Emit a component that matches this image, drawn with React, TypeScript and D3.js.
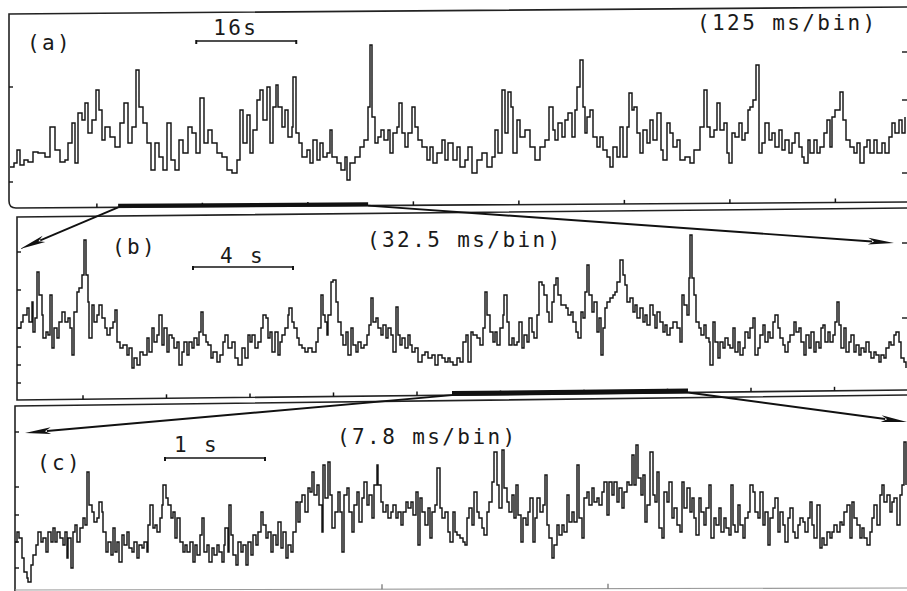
import React from "react";
import * as d3 from "d3";

type Pt = [number, number];

// Panel (a): time (s), counts per bin
const aSeries: Pt[] = [[0,18],[0.64,22],[1.12,35],[1.6,20],[2.24,25],[2.88,23],[3.68,33],[4.48,32],[5.6,28],[6.4,58],[7.2,35],[8,23],[8.8,25],[9.28,42],[9.92,62],[10.4,22],[10.88,72],[11.52,65],[12,82],[12.48,52],[13.12,65],[13.76,95],[14.24,75],[14.72,45],[15.2,58],[16,48],[16.8,38],[17.6,62],[18.24,82],[18.88,42],[19.52,58],[20.16,115],[20.64,78],[21.28,62],[21.92,42],[22.56,15],[23.2,42],[23.84,28],[24.48,15],[25.12,62],[25.76,25],[26.4,15],[27.04,45],[27.68,32],[28.48,58],[29.12,52],[29.76,32],[30.4,87],[31.04,42],[31.68,55],[32.32,42],[33.12,32],[33.92,28],[34.72,15],[35.52,12],[36.32,25],[36.8,75],[37.28,42],[37.92,70],[38.4,32],[38.88,55],[39.52,85],[40,95],[40.48,65],[41.12,98],[41.6,42],[42.08,78],[42.56,100],[42.88,78],[43.52,58],[44,75],[44.48,48],[45.12,58],[45.28,108],[45.76,52],[46.24,42],[46.72,28],[47.52,35],[48,22],[48.48,45],[49.12,25],[49.6,42],[50.08,28],[50.72,32],[51.2,55],[51.52,28],[52.32,22],[52.96,15],[53.6,28],[53.92,5],[54.4,22],[55.2,28],[56,38],[56.64,45],[57.28,78],[57.6,140],[57.92,68],[58.4,42],[58.88,48],[59.36,55],[59.84,45],[60.48,55],[60.8,32],[61.28,52],[61.92,58],[62.24,82],[62.72,52],[63.2,38],[63.68,52],[64.32,78],[64.8,58],[65.28,45],[65.92,38],[66.72,25],[67.2,38],[67.68,22],[68.32,32],[69.12,45],[69.6,25],[70.08,42],[70.88,25],[71.52,38],[72,18],[72.8,25],[73.28,38],[73.92,12],[74.72,25],[75.52,32],[76.32,18],[77.12,28],[77.6,55],[78.08,32],[78.72,95],[79.2,52],[79.68,93],[80.16,78],[80.48,32],[81.12,65],[81.6,48],[82.4,55],[83.2,38],[84,25],[84.8,38],[85.6,45],[86.24,78],[86.88,55],[87.2,45],[87.68,62],[88.32,48],[88.8,65],[89.28,72],[89.92,48],[90.4,75],[90.72,98],[91.2,125],[91.68,78],[92,52],[92.32,68],[92.8,75],[93.28,48],[93.92,38],[94.4,48],[94.88,35],[95.52,28],[96,18],[96.48,38],[97.12,28],[97.6,58],[98.08,28],[98.72,58],[99.04,92],[99.52,75],[99.84,78],[100.32,52],[100.8,32],[101.28,55],[101.92,42],[102.4,65],[102.88,45],[103.52,72],[104.16,35],[104.48,25],[105.12,62],[105.6,52],[106.08,38],[106.72,45],[107.2,25],[108,28],[108.8,22],[109.44,35],[109.92,35],[110.4,58],[111.04,95],[111.52,58],[112,48],[112.64,55],[113.12,82],[113.6,55],[114.24,62],[114.72,32],[115.04,22],[115.52,52],[116,48],[116.64,62],[117.12,45],[117.6,52],[118.08,75],[118.4,78],[118.88,85],[119.36,120],[119.84,32],[120.32,42],[120.8,62],[121.44,45],[121.92,52],[122.4,38],[123.04,55],[123.52,35],[124,45],[124.64,32],[125.12,42],[125.6,52],[126.24,38],[126.72,28],[127.04,22],[127.68,45],[128,32],[128.64,45],[129.12,32],[129.6,38],[130.24,52],[130.72,65],[131.2,38],[131.52,68],[132,75],[132.8,93],[133.28,65],[133.76,45],[134.4,38],[135.04,32],[135.52,42],[136,22],[136.64,38],[137.12,45],[137.6,32],[138.24,45],[138.72,32],[139.52,42],[140,32],[140.64,48],[141.12,62],[141.6,52],[142.24,65],[142.72,52],[143.2,68]];

// Panel (b)
const bSeries: Pt[] = [[0,67],[0.12,73],[0.2,80],[0.36,87],[0.44,73],[0.56,93],[0.6,63],[0.68,77],[0.76,123],[0.84,100],[0.96,80],[1,57],[1.12,63],[1.2,60],[1.28,100],[1.36,47],[1.44,67],[1.56,57],[1.64,73],[1.76,83],[1.88,73],[2,77],[2.08,67],[2.16,40],[2.24,83],[2.36,103],[2.44,107],[2.56,120],[2.64,155],[2.72,120],[2.8,93],[2.84,57],[2.96,90],[3.04,73],[3.16,80],[3.24,90],[3.36,77],[3.48,67],[3.56,60],[3.68,67],[3.8,73],[3.88,85],[3.96,53],[4.08,47],[4.2,50],[4.36,40],[4.44,47],[4.56,27],[4.64,37],[4.76,30],[4.88,43],[5,40],[5.16,57],[5.24,43],[5.36,67],[5.44,53],[5.56,60],[5.64,80],[5.76,50],[5.84,67],[5.96,43],[6.04,60],[6.16,57],[6.24,47],[6.36,53],[6.44,30],[6.56,43],[6.64,53],[6.76,40],[6.84,53],[6.96,47],[7.04,57],[7.16,50],[7.24,63],[7.32,83],[7.4,60],[7.52,53],[7.6,50],[7.72,37],[7.8,43],[7.96,33],[8.08,40],[8.2,53],[8.28,60],[8.4,47],[8.56,53],[8.68,37],[8.8,30],[8.96,47],[9.08,37],[9.2,60],[9.28,53],[9.36,60],[9.48,47],[9.6,53],[9.72,67],[9.8,80],[9.92,77],[10,57],[10.08,63],[10.16,43],[10.28,63],[10.4,40],[10.48,53],[10.56,60],[10.68,67],[10.8,80],[10.84,87],[10.96,73],[11.04,67],[11.16,57],[11.24,50],[11.36,47],[11.48,43],[11.6,47],[11.76,43],[11.92,53],[12,67],[12.12,100],[12.2,80],[12.28,73],[12.36,60],[12.4,80],[12.52,113],[12.6,115],[12.72,93],[12.8,73],[12.92,60],[13,50],[13.12,63],[13.2,40],[13.32,67],[13.4,50],[13.52,43],[13.6,53],[13.72,47],[13.84,50],[13.96,60],[14.04,70],[14.12,97],[14.2,73],[14.32,77],[14.4,67],[14.52,60],[14.6,70],[14.72,57],[14.8,67],[14.92,60],[15,43],[15.12,88],[15.2,60],[15.28,50],[15.36,57],[15.48,47],[15.6,60],[15.68,50],[15.76,43],[15.88,47],[16,33],[16.16,40],[16.28,43],[16.4,37],[16.56,40],[16.68,30],[16.8,40],[16.96,37],[17.08,33],[17.2,37],[17.28,33],[17.4,30],[17.56,37],[17.68,33],[17.8,53],[17.92,60],[18,33],[18.12,63],[18.2,60],[18.36,57],[18.48,50],[18.6,67],[18.68,103],[18.76,80],[18.88,63],[19,53],[19.08,63],[19.16,50],[19.28,67],[19.4,80],[19.44,100],[19.56,73],[19.64,50],[19.76,57],[19.84,50],[19.96,53],[20.04,73],[20.16,47],[20.24,60],[20.36,53],[20.44,77],[20.56,63],[20.64,57],[20.76,80],[20.84,113],[20.96,110],[21.04,100],[21.16,83],[21.24,73],[21.36,93],[21.44,110],[21.52,117],[21.6,100],[21.72,90],[21.8,90],[21.92,87],[22,80],[22.12,83],[22.2,73],[22.32,63],[22.4,57],[22.52,83],[22.6,77],[22.68,103],[22.76,130],[22.84,100],[22.96,83],[23.04,93],[23.16,63],[23.24,77],[23.32,40],[23.4,67],[23.48,87],[23.56,93],[23.68,97],[23.8,100],[23.88,103],[23.96,113],[24.08,135],[24.2,120],[24.28,110],[24.36,93],[24.48,97],[24.6,83],[24.68,90],[24.76,77],[24.88,87],[25,73],[25.08,80],[25.16,70],[25.28,90],[25.4,80],[25.48,67],[25.56,83],[25.68,73],[25.8,63],[25.88,70],[25.96,60],[26.08,67],[26.2,73],[26.36,67],[26.48,53],[26.56,100],[26.64,90],[26.76,80],[26.84,117],[26.88,160],[26.96,117],[27.04,100],[27.12,73],[27.24,67],[27.32,60],[27.44,70],[27.52,57],[27.64,53],[27.68,30],[27.8,73],[27.88,53],[28,37],[28.08,53],[28.2,47],[28.28,57],[28.4,50],[28.48,47],[28.6,67],[28.68,43],[28.8,53],[28.88,40],[29,47],[29.08,63],[29.2,57],[29.28,67],[29.4,77],[29.48,40],[29.6,47],[29.68,60],[29.8,70],[29.88,53],[30,63],[30.08,57],[30.2,73],[30.28,80],[30.4,67],[30.48,57],[30.6,50],[30.68,43],[30.8,53],[30.88,60],[31.04,73],[31.12,63],[31.24,67],[31.32,53],[31.44,40],[31.52,60],[31.64,47],[31.72,63],[31.84,43],[31.92,53],[32.04,47],[32.12,67],[32.2,70],[32.28,53],[32.4,63],[32.48,53],[32.6,60],[32.68,73],[32.76,93],[32.84,70],[32.92,47],[33.04,67],[33.12,43],[33.24,53],[33.32,60],[33.44,43],[33.52,50],[33.64,40],[33.72,47],[33.84,43],[33.92,53],[34.04,43],[34.12,37],[34.24,43],[34.32,40],[34.44,33],[34.52,40],[34.64,37],[34.72,47],[34.84,53],[34.92,50],[35.04,60],[35.12,63],[35.24,53],[35.32,37],[35.44,33],[35.52,27]];

// Panel (c)
const cSeries: Pt[] = [[0,48],[0.02,58],[0.04,52],[0.07,32],[0.09,18],[0.12,12],[0.13,8],[0.16,25],[0.18,35],[0.21,45],[0.23,58],[0.26,48],[0.28,52],[0.31,38],[0.33,58],[0.36,48],[0.38,62],[0.4,48],[0.42,58],[0.45,52],[0.48,45],[0.5,58],[0.52,32],[0.53,52],[0.56,22],[0.58,58],[0.6,65],[0.62,48],[0.65,62],[0.68,72],[0.7,65],[0.72,118],[0.74,85],[0.77,78],[0.79,68],[0.82,72],[0.84,88],[0.87,78],[0.88,58],[0.91,38],[0.93,48],[0.96,35],[0.98,62],[1,38],[1.02,48],[1.04,28],[1.07,55],[1.09,45],[1.12,58],[1.14,42],[1.17,38],[1.19,48],[1.22,32],[1.24,45],[1.27,42],[1.29,48],[1.32,38],[1.33,65],[1.35,85],[1.38,62],[1.4,65],[1.42,58],[1.45,72],[1.47,85],[1.48,105],[1.51,92],[1.53,85],[1.56,72],[1.58,78],[1.6,52],[1.62,72],[1.65,48],[1.68,38],[1.7,45],[1.72,38],[1.75,48],[1.78,28],[1.8,45],[1.82,35],[1.85,55],[1.87,72],[1.89,38],[1.92,45],[1.94,28],[1.97,42],[1.99,35],[2.02,45],[2.04,38],[2.07,28],[2.09,45],[2.1,62],[2.13,38],[2.14,85],[2.16,55],[2.18,35],[2.21,25],[2.23,48],[2.26,38],[2.28,45],[2.31,25],[2.33,48],[2.36,35],[2.38,55],[2.41,45],[2.43,58],[2.46,78],[2.48,65],[2.51,52],[2.53,58],[2.56,38],[2.58,55],[2.61,45],[2.63,68],[2.66,42],[2.68,58],[2.71,32],[2.73,45],[2.76,38],[2.78,58],[2.81,88],[2.83,68],[2.85,88],[2.87,95],[2.9,78],[2.93,102],[2.95,98],[2.97,118],[2.99,95],[3.02,105],[3.04,85],[3.07,58],[3.08,125],[3.1,92],[3.13,128],[3.15,95],[3.17,62],[3.2,78],[3.23,98],[3.25,78],[3.27,38],[3.29,95],[3.32,102],[3.34,78],[3.37,58],[3.39,85],[3.42,98],[3.44,68],[3.47,92],[3.49,108],[3.52,85],[3.54,95],[3.57,72],[3.59,105],[3.62,125],[3.63,105],[3.66,88],[3.68,78],[3.71,85],[3.73,72],[3.76,78],[3.78,85],[3.81,72],[3.83,78],[3.86,65],[3.88,78],[3.91,88],[3.93,82],[3.96,88],[3.98,75],[4.01,98],[4.03,45],[4.05,92],[4.07,78],[4.1,65],[4.13,82],[4.15,52],[4.17,78],[4.2,85],[4.22,122],[4.25,82],[4.27,72],[4.3,78],[4.33,58],[4.35,48],[4.38,78],[4.4,58],[4.42,55],[4.45,52],[4.48,48],[4.5,45],[4.52,72],[4.54,82],[4.57,65],[4.59,98],[4.62,78],[4.64,72],[4.67,62],[4.69,55],[4.72,78],[4.74,88],[4.77,108],[4.79,138],[4.82,105],[4.84,82],[4.87,140],[4.89,102],[4.92,88],[4.94,78],[4.97,95],[4.99,72],[5.01,105],[5.03,75],[5.06,48],[5.08,72],[5.11,65],[5.13,78],[5.15,92],[5.18,48],[5.2,72],[5.22,92],[5.25,78],[5.28,85],[5.3,115],[5.32,65],[5.34,52],[5.37,32],[5.39,45],[5.42,65],[5.44,55],[5.47,65],[5.49,58],[5.52,95],[5.54,68],[5.57,78],[5.59,68],[5.62,125],[5.64,72],[5.67,52],[5.69,92],[5.72,98],[5.74,85],[5.77,102],[5.79,88],[5.82,92],[5.84,85],[5.87,98],[5.89,108],[5.92,75],[5.94,108],[5.97,95],[5.99,108],[6.02,88],[6.04,102],[6.07,82],[6.09,98],[6.12,108],[6.14,105],[6.17,135],[6.19,105],[6.21,145],[6.23,112],[6.26,95],[6.28,115],[6.3,68],[6.32,85],[6.35,138],[6.38,95],[6.4,88],[6.42,118],[6.44,62],[6.47,52],[6.49,98],[6.52,88],[6.54,108],[6.57,72],[6.59,82],[6.62,65],[6.65,58],[6.67,108],[6.69,82],[6.72,102],[6.75,78],[6.77,92],[6.79,72],[6.81,55],[6.84,92],[6.86,78],[6.89,65],[6.91,82],[6.94,105],[6.96,52],[6.99,72],[7.01,65],[7.04,82],[7.06,58],[7.09,72],[7.11,62],[7.14,55],[7.16,105],[7.18,65],[7.2,58],[7.23,85],[7.25,65],[7.28,52],[7.3,72],[7.33,78],[7.35,105],[7.38,98],[7.4,78],[7.43,72],[7.45,98],[7.48,65],[7.5,78],[7.53,45],[7.55,72],[7.58,82],[7.6,92],[7.63,58],[7.65,78],[7.68,65],[7.7,48],[7.73,72],[7.75,82],[7.78,58],[7.8,52],[7.83,65],[7.85,72],[7.88,68],[7.9,58],[7.93,72],[7.95,88],[7.97,65],[7.99,52],[8.02,85],[8.05,42],[8.07,52],[8.09,45],[8.12,58],[8.15,52],[8.17,58],[8.19,65],[8.22,58],[8.25,68],[8.27,65],[8.29,78],[8.32,85],[8.35,52],[8.37,88],[8.39,72],[8.42,65],[8.45,52],[8.47,62],[8.49,52],[8.52,45],[8.55,58],[8.57,72],[8.59,85],[8.62,65],[8.65,95],[8.67,105],[8.69,88],[8.72,95],[8.75,78],[8.77,88],[8.79,92],[8.82,65],[8.85,95],[8.87,105],[8.89,148],[8.91,105]];

const panelLabels = ["(a)", "(b)", "(c)"];
const binLabels = ["(125 ms/bin)", "(32.5 ms/bin)", "(7.8 ms/bin)"];
const scaleBarLabels = ["16s", "4 s", "1 s"];
const scaleBarSeconds = [16, 4, 1];
const scaleBarStart = [29.8, 7.0, 1.5];
const zoomWindowA: Pt = [17.3, 57.3];
const zoomWindowB: Pt = [17.36, 26.8];
const aTimeTicks = [13.9, 30.78, 47.66, 64.54, 81.42, 98.3, 115.18, 132.06];
const bTimeTicks = [2.6, 5.94, 9.28, 12.62, 15.96, 19.3, 22.64, 25.98, 29.32, 32.66];
const cTimeTicks = [3.67, 5.93];
const aLeftTicks = [3, 98];
const aRightTicks = [133, 85, 12];
const bLeftTicks = [143, 105, 67, 48, 30, 12];
const bRightTicks = [152, 77];
const cLeftTicks = [158, 103, 75, 48, 22];

const W = 907;
const H = 591;
const INK = "#141414";
const FONT = "'DejaVu Sans Mono', 'Liberation Mono', monospace";

const aX = d3.scaleLinear().domain([0, 143.2]).range([10, 905]);
const aY = d3.scaleLinear().domain([0, 180]).range([185, 5]);
const bX = d3.scaleLinear().domain([0, 35.52]).range([18, 906]);
const bY = d3.scaleLinear().domain([0, 180]).range([395, 215]);
const cX = d3.scaleLinear().domain([0, 8.91]).range([15, 906]);
const cY = d3.scaleLinear().domain([0, 180]).range([590, 410]);

// frame edges (slightly skewed like the scan)
const edge = (x1: number, y1: number, x2: number, y2: number) => (x: number) =>
  y1 + ((y2 - y1) * (x - x1)) / (x2 - x1);
const aBottomY = edge(16, 208, 907, 202);
const bBottomY = edge(17, 400, 907, 390);
const cBottomY = edge(15, 590, 907, 588);

function Trace({ data, x, y }: { data: Pt[]; x: any; y: any }) {
  const line = d3
    .line<Pt>()
    .x((d) => x(d[0]))
    .y((d) => y(d[1]))
    .curve(d3.curveStepAfter);
  return <path d={line(data) || ""} fill="none" stroke={INK} strokeWidth={1.45} strokeLinejoin="miter" />;
}

function Arrow({ x1, y1, x2, y2 }: { x1: number; y1: number; x2: number; y2: number }) {
  const dx = x2 - x1, dy = y2 - y1;
  const L = Math.hypot(dx, dy);
  const ux = dx / L, uy = dy / L;
  const hl = 26, hw = 3.4;
  const bx = x2 - ux * hl, by = y2 - uy * hl;
  const pts = `${x2},${y2} ${bx - uy * hw},${by + ux * hw} ${bx + ux * 6},${by + uy * 6} ${bx + uy * hw},${by - ux * hw}`;
  return (
    <g>
      <line x1={x1} y1={y1} x2={bx + ux * 4} y2={by + uy * 4} stroke="#111" strokeWidth={1.9} />
      <polygon points={pts} fill="#111" />
    </g>
  );
}

function ScaleBar({ x, y, start, secs, label, labelDx, labelY }: any) {
  const x1 = x(start), x2 = x(start + secs);
  return (
    <g>
      <line x1={x1} y1={y} x2={x2} y2={y} stroke={INK} strokeWidth={1.6} />
      <line x1={x1} y1={y - 1} x2={x1} y2={y + 3} stroke={INK} strokeWidth={2} />
      <line x1={x2} y1={y - 1} x2={x2} y2={y + 3} stroke={INK} strokeWidth={2} />
      <text x={x1 + labelDx} y={labelY} fontFamily={FONT} fontSize={21} letterSpacing={2.4} fill="#1a1a1a">
        {label}
      </text>
    </g>
  );
}

export default function App() {
  const txt = { fontFamily: FONT, fontSize: 21, letterSpacing: 2.4, fill: "#1a1a1a" } as const;
  const frame = { stroke: "#222", strokeWidth: 1.6, fill: "none" } as const;
  return (
    <svg width={W} height={H} style={{ position: "fixed", left: 0, top: 0, background: "#fff" }}>
      <rect x={0} y={0} width={W} height={H} fill="#fff" />

      {/* Panel frames */}
      <path d={`M907,7 L9,14 L9,201 Q9,208 16,208 L907,202`} {...frame} />
      <path d={`M907,208 L17,217 L17,400 L907,390`} {...frame} />
      <path d={`M907,395 L15,406 L15,591`} {...frame} />
      <line x1={15} y1={590} x2={907} y2={588} stroke="#9a9a9a" strokeWidth={1.1} />

      {/* Axis ticks */}
      {aTimeTicks.map((t, i) => (
        <line key={"at" + i} x1={aX(t)} x2={aX(t)} y1={aBottomY(aX(t))} y2={aBottomY(aX(t)) - 4} stroke={INK} strokeWidth={1.5} />
      ))}
      {bTimeTicks.map((t, i) => (
        <line key={"bt" + i} x1={bX(t)} x2={bX(t)} y1={bBottomY(bX(t))} y2={bBottomY(bX(t)) - 4} stroke={INK} strokeWidth={1.5} />
      ))}
      {cTimeTicks.map((t, i) => (
        <line key={"ct" + i} x1={cX(t)} x2={cX(t)} y1={cBottomY(cX(t))} y2={cBottomY(cX(t)) - 5} stroke="#777" strokeWidth={1.3} />
      ))}
      {aLeftTicks.map((v, i) => (
        <line key={"al" + i} x1={9} x2={13} y1={aY(v)} y2={aY(v)} stroke={INK} strokeWidth={1.4} />
      ))}
      {aRightTicks.map((v, i) => (
        <line key={"ar" + i} x1={902} x2={907} y1={aY(v)} y2={aY(v)} stroke={INK} strokeWidth={1.4} />
      ))}
      {bLeftTicks.map((v, i) => (
        <line key={"bl" + i} x1={17} x2={21} y1={bY(v)} y2={bY(v)} stroke={INK} strokeWidth={1.4} />
      ))}
      {bRightTicks.map((v, i) => (
        <line key={"br" + i} x1={902} x2={907} y1={bY(v)} y2={bY(v)} stroke={INK} strokeWidth={1.4} />
      ))}
      {cLeftTicks.map((v, i) => (
        <line key={"cl" + i} x1={15} x2={19} y1={cY(v)} y2={cY(v)} stroke={INK} strokeWidth={1.4} />
      ))}

      {/* Zoom windows (thick bars) */}
      <line x1={aX(zoomWindowA[0])} x2={aX(zoomWindowA[1])} y1={aBottomY(aX(zoomWindowA[0])) - 1.5} y2={aBottomY(aX(zoomWindowA[1])) - 1.5} stroke="#111" strokeWidth={4} />
      <line x1={bX(zoomWindowB[0])} x2={bX(zoomWindowB[1])} y1={bBottomY(bX(zoomWindowB[0])) - 1.5} y2={bBottomY(bX(zoomWindowB[1])) - 1.5} stroke="#111" strokeWidth={5} />

      {/* Arrows */}
      <Arrow x1={aX(zoomWindowA[0])} y1={aBottomY(aX(zoomWindowA[0]))} x2={20} y2={249} />
      <Arrow x1={aX(zoomWindowA[1])} y1={aBottomY(aX(zoomWindowA[1]))} x2={894} y2={243} />
      <Arrow x1={bX(zoomWindowB[0])} y1={bBottomY(bX(zoomWindowB[0]))} x2={25} y2={433} />
      <Arrow x1={bX(zoomWindowB[1])} y1={bBottomY(bX(zoomWindowB[1]))} x2={907} y2={422} />

      {/* Traces */}
      <Trace data={aSeries} x={aX} y={aY} />
      <Trace data={bSeries} x={bX} y={bY} />
      <Trace data={cSeries} x={cX} y={cY} />

      {/* Labels */}
      <text x={27} y={50} {...txt}>{panelLabels[0]}</text>
      <text x={112} y={254} {...txt}>{panelLabels[1]}</text>
      <text x={37} y={470} {...txt}>{panelLabels[2]}</text>
      <text x={697} y={30} {...txt}>{binLabels[0]}</text>
      <text x={367} y={247} {...txt}>{binLabels[1]}</text>
      <text x={337} y={444} {...txt}>{binLabels[2]}</text>

      <ScaleBar x={aX} y={41} start={scaleBarStart[0]} secs={scaleBarSeconds[0]} label={scaleBarLabels[0]} labelDx={17} labelY={35} />
      <ScaleBar x={bX} y={267} start={scaleBarStart[1]} secs={scaleBarSeconds[1]} label={scaleBarLabels[1]} labelDx={27} labelY={263} />
      <ScaleBar x={cX} y={458} start={scaleBarStart[2]} secs={scaleBarSeconds[2]} label={scaleBarLabels[2]} labelDx={9} labelY={452} />
    </svg>
  );
}
